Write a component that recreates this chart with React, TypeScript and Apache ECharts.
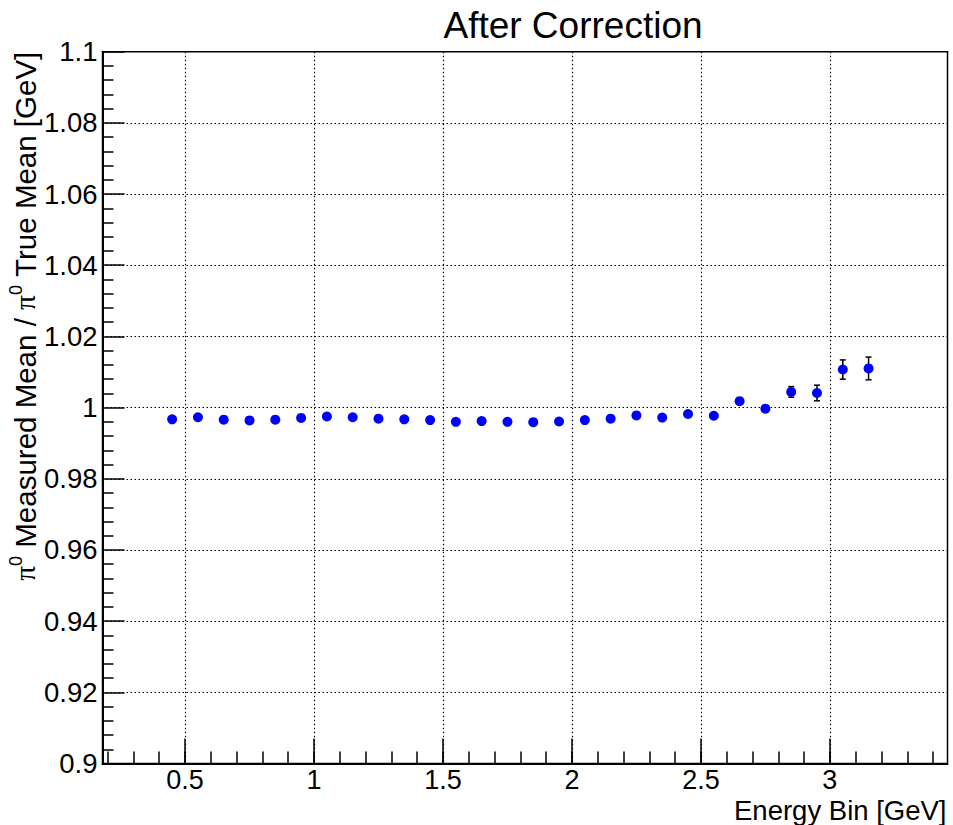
import React, { useEffect, useRef } from "react";
import * as echarts from "echarts";

// ---- data ----
const energyBins = [
  0.45, 0.55, 0.65, 0.75, 0.85, 0.95, 1.05, 1.15, 1.25, 1.35,
  1.45, 1.55, 1.65, 1.75, 1.85, 1.95, 2.05, 2.15, 2.25, 2.35,
  2.45, 2.55, 2.65, 2.75, 2.85, 2.95, 3.05, 3.15,
];
const meanRatio = [
  0.9967, 0.9973, 0.9966, 0.9964, 0.9966, 0.9971, 0.9975, 0.9973, 0.9969, 0.9967,
  0.9965, 0.996, 0.9962, 0.996, 0.9959, 0.9961, 0.9965, 0.9969, 0.9978, 0.9972,
  0.9982, 0.9977, 1.0018, 0.9997, 1.0044, 1.0041, 1.0107, 1.011,
];
const meanRatioErr = [
  0.0003, 0.0003, 0.0003, 0.0003, 0.0003, 0.0003, 0.0003, 0.0003, 0.0003, 0.0003,
  0.0003, 0.0003, 0.0003, 0.0003, 0.0003, 0.0004, 0.0004, 0.0004, 0.0004, 0.0005,
  0.0005, 0.0006, 0.0007, 0.0008, 0.0015, 0.0022, 0.0027, 0.0032,
];
const xMajorTicks = [0.5, 1, 1.5, 2, 2.5, 3];
const xMinorTicks = [
  0.2, 0.3, 0.4, 0.5, 0.6, 0.7, 0.8, 0.9, 1.0, 1.1, 1.2, 1.3, 1.4, 1.5, 1.6, 1.7,
  1.8, 1.9, 2.0, 2.1, 2.2, 2.3, 2.4, 2.5, 2.6, 2.7, 2.8, 2.9, 3.0, 3.1, 3.2, 3.3, 3.4,
];
const xRange = [0.18, 3.456];
const yRange = [0.9, 1.1];
const yStep = 0.02;

const titleText = "After Correction";
const xTitle = "Energy Bin [GeV]";

const FONT = "'Liberation Sans', Arial, Helvetica, sans-serif";

export default function App() {
  const ref = useRef<HTMLDivElement>(null);

  useEffect(() => {
    document.body.style.margin = "0";
    if (!ref.current) return;
    const chart = echarts.init(ref.current, null, { renderer: "svg" });

    const fmt = (v: number) => String(+(+v).toFixed(3));
    const dotted = { color: "#000", width: 1.2, type: [1.5, 2.5] as number[] };

    const option: any = {
      animation: false,
      backgroundColor: "#fff",
      grid: {
        left: 102.5,
        right: 5.5,
        top: 51.7,
        bottom: 61.5,
        show: true,
        borderColor: "#000",
        borderWidth: 1.5,
        backgroundColor: "transparent",
        containLabel: false,
        outerBoundsMode: "none",
      },
      xAxis: [
        {
          type: "value",
          position: "bottom",
          min: xRange[0],
          max: xRange[1],
          axisLine: { show: true, onZero: false, lineStyle: { color: "#000", width: 2 } },
          axisTick: {
            show: true,
            inside: true,
            length: 12,
            customValues: xMinorTicks,
            lineStyle: { color: "#000", width: 1.5 },
          },
          axisLabel: { show: false },
          splitLine: { show: false },
        },
        {
          type: "value",
          position: "bottom",
          min: xRange[0],
          max: xRange[1],
          axisLine: { show: false, onZero: false },
          axisTick: {
            show: true,
            inside: true,
            length: 25,
            customValues: xMajorTicks,
            lineStyle: { color: "#000", width: 1.5 },
          },
          axisLabel: {
            show: true,
            customValues: xMajorTicks,
            formatter: fmt,
            color: "#000",
            fontSize: 27,
            fontFamily: FONT,
            margin: 3,
          },
          splitLine: { show: true, lineStyle: dotted },
        },
      ],
      yAxis: {
        type: "value",
        min: yRange[0],
        max: yRange[1],
        interval: yStep,
        axisLine: { show: true, onZero: false, lineStyle: { color: "#000", width: 2 } },
        axisTick: { show: true, inside: true, length: 22, lineStyle: { color: "#000", width: 1.5 } },
        minorTick: { show: true, splitNumber: 5, length: 11, lineStyle: { color: "#000", width: 1.5 } },
        axisLabel: {
          formatter: fmt,
          color: "#000",
          fontSize: 27.5,
          fontFamily: FONT,
          margin: 5,
        },
        splitLine: { show: true, lineStyle: dotted },
        minorSplitLine: { show: false },
      },
      graphic: [
        {
          type: "text",
          x: 573,
          y: 25,
          style: {
            text: titleText,
            fontSize: 37,
            fontFamily: FONT,
            fill: "#000",
            align: "center",
            verticalAlign: "middle",
          },
        },
        {
          type: "text",
          x: 946.5,
          y: 810,
          style: {
            text: xTitle,
            fontSize: 27.5,
            fontFamily: FONT,
            fill: "#000",
            align: "right",
            verticalAlign: "middle",
          },
        },
        {
          type: "text",
          x: 25,
          y: 51.7,
          rotation: Math.PI / 2,
          style: {
            text:
              "{pi|π}{sup|0}{t| Measured Mean / }{pi|π}{sup|0}{t| True Mean [GeV]}",
            align: "right",
            verticalAlign: "middle",
            rich: {
              t: { fontSize: 29.5, fontFamily: FONT, fill: "#000", lineHeight: 36, verticalAlign: "middle" },
              pi: {
                fontSize: 29.5,
                fontFamily: "'Liberation Serif', 'DejaVu Serif', serif",
                fill: "#000",
                lineHeight: 36,
                verticalAlign: "middle",
              },
              sup: { fontSize: 18, fontFamily: FONT, fill: "#000", lineHeight: 36, verticalAlign: "top" },
            },
          },
        },
      ],
      series: [
        {
          type: "custom",
          xAxisIndex: 0,
          yAxisIndex: 0,
          z: 2,
          data: energyBins.map((x, i) => [x, meanRatio[i], meanRatioErr[i]]),
          renderItem: (params: any, api: any) => {
            const x = api.value(0);
            const y = api.value(1);
            const e = api.value(2);
            const top = api.coord([x, y + e]);
            const bot = api.coord([x, y - e]);
            const hw = 3;
            const ls = { stroke: "#000", lineWidth: 1.5 };
            return {
              type: "group",
              children: [
                { type: "line", shape: { x1: top[0], y1: top[1], x2: bot[0], y2: bot[1] }, style: ls },
                { type: "line", shape: { x1: top[0] - hw, y1: top[1], x2: top[0] + hw, y2: top[1] }, style: ls },
                { type: "line", shape: { x1: bot[0] - hw, y1: bot[1], x2: bot[0] + hw, y2: bot[1] }, style: ls },
              ],
            };
          },
        },
        {
          type: "scatter",
          xAxisIndex: 0,
          yAxisIndex: 0,
          z: 3,
          symbol: "circle",
          symbolSize: 10,
          itemStyle: { color: "#0000ff", opacity: 1 },
          data: energyBins.map((x, i) => [x, meanRatio[i]]),
        },
      ],
    };

    chart.setOption(option);
    return () => chart.dispose();
  }, []);

  return <div ref={ref} style={{ width: 953, height: 825 }} />;
}
